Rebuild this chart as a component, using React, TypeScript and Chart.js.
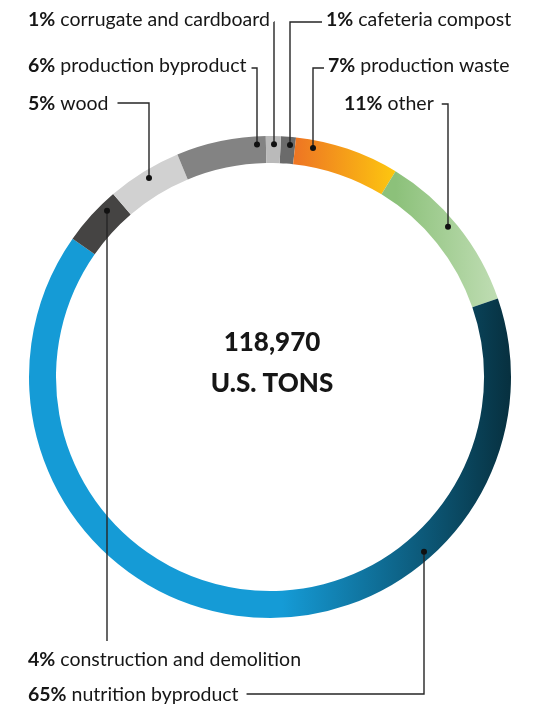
import { useEffect, useRef } from "react";
import { Chart, registerables } from "chart.js";

Chart.register(...registerables);

// ---- data ----
const categories = [
  "cafeteria compost",
  "production waste",
  "other",
  "nutrition byproduct",
  "construction and demolition",
  "wood",
  "production byproduct",
  "corrugate and cardboard",
];
const shares = [1, 7, 11, 65, 4, 5, 6, 1];
const centerLines = ["118,970", "U.S. TONS"];

// ---- styles ----
type Seg = { from: string; to?: string; fx0?: number; fx1?: number };
const segmentStyles: Seg[] = [
  { from: "#6B6B6B" },
  { from: "#EE7623", to: "#FDC70F" },
  { from: "#8CC17A", to: "#BFDDB3" },
  { from: "#159BD6", to: "#07303F", fx0: 0.05, fx1: 1.0 },
  { from: "#454443" },
  { from: "#D1D1D1" },
  { from: "#838383" },
  { from: "#BABABA" },
];

type Lab = {
  tx: number; // text x
  base: number; // text baseline
  lineX: number; // vertical leader x
  lineY: number; // horizontal leader y / end of vertical
  side: "left" | "right" | "none";
  gap: number; // gap between text and horizontal leader
};
const labelLayout: Lab[] = [
  { tx: 326, base: 26, lineX: 290, lineY: 22, side: "right", gap: 4 },
  { tx: 328, base: 72, lineX: 313, lineY: 68, side: "right", gap: 4 },
  { tx: 344, base: 110, lineX: 448, lineY: 104, side: "left", gap: 8 },
  { tx: 28, base: 701, lineX: 424, lineY: 694, side: "left", gap: 8 },
  { tx: 28, base: 666, lineX: 107, lineY: 641, side: "none", gap: 0 },
  { tx: 28, base: 110, lineX: 149, lineY: 103, side: "left", gap: 9 },
  { tx: 28, base: 72, lineX: 257, lineY: 68, side: "left", gap: 5 },
  { tx: 28, base: 26, lineX: 274, lineY: 22, side: "left", gap: 4 },
];

const FONT = "Lato, 'Open Sans', sans-serif";
const INK = "#161616";
const LABEL_SIZE = 19.5;

function angleSpans(rotationDeg: number) {
  const total = shares.reduce((a, b) => a + b, 0);
  let acc = rotationDeg;
  return shares.map((v) => {
    const s = acc;
    acc += (v / total) * 360;
    return [s, acc];
  });
}

const ROTATION = 2.6;

export default function App() {
  const ref = useRef<HTMLCanvasElement | null>(null);

  useEffect(() => {
    document.body.style.margin = "0";
    const canvas = ref.current;
    if (!canvas) return;
    const spans = angleSpans(ROTATION);

    const bg = (ctx: any) => {
      const chart = ctx.chart;
      const i = ctx.dataIndex;
      const st = segmentStyles[i];
      const area = chart.chartArea;
      if (!st.to || !area) return st.from;
      const cx = (area.left + area.right) / 2;
      const r = (area.right - area.left) / 2;
      let x0: number, x1: number;
      if (st.fx0 !== undefined && st.fx1 !== undefined) {
        x0 = cx + st.fx0 * r;
        x1 = cx + st.fx1 * r;
      } else {
        const [a0, a1] = spans[i];
        x0 = cx + r * Math.sin((a0 * Math.PI) / 180);
        x1 = cx + r * Math.sin((a1 * Math.PI) / 180);
      }
      const g = chart.ctx.createLinearGradient(x0, 0, x1, 0);
      g.addColorStop(0, st.from);
      g.addColorStop(1, st.to);
      return g;
    };

    const annotate = {
      id: "annotate",
      afterDraw(chart: any) {
        const c = chart.ctx as CanvasRenderingContext2D;
        const meta = chart.getDatasetMeta(0);
        c.save();
        meta.data.forEach((arc: any, i: number) => {
          const L = labelLayout[i];
          const { x: cx, y: cy, innerRadius, outerRadius, startAngle, endAngle } = arc.getProps(
            ["x", "y", "innerRadius", "outerRadius", "startAngle", "endAngle"],
            true
          );
          const mid = (startAngle + endAngle) / 2;
          const rd = innerRadius + 0.7 * (outerRadius - innerRadius);
          const dx = L.lineX - cx;
          const h = Math.sqrt(Math.max(0, rd * rd - dx * dx));
          const top = Math.sin(mid) < 0;
          const dotY = top ? cy - h : cy + h;

          // text
          const pct = shares[i] + "%";
          c.textBaseline = "alphabetic";
          c.textAlign = "left";
          c.fillStyle = INK;
          c.font = `bold ${LABEL_SIZE}px ${FONT}`;
          const pw = c.measureText(pct).width;
          c.fillText(pct, L.tx, L.base);
          c.font = `${LABEL_SIZE}px ${FONT}`;
          const name = " " + categories[i];
          const nw = c.measureText(name).width;
          c.fillText(name, L.tx + pw, L.base);
          const textEnd = L.tx + pw + nw;

          // leader
          c.strokeStyle = "#262626";
          c.lineWidth = 1.4;
          c.beginPath();
          if (L.side === "left") {
            c.moveTo(textEnd + L.gap, L.lineY);
            c.lineTo(L.lineX, L.lineY);
          } else if (L.side === "right") {
            c.moveTo(L.tx - L.gap, L.lineY);
            c.lineTo(L.lineX, L.lineY);
          } else {
            c.moveTo(L.lineX, L.lineY);
          }
          c.lineTo(L.lineX, dotY);
          c.stroke();

          c.fillStyle = "#111";
          c.beginPath();
          c.arc(L.lineX, dotY, 3, 0, Math.PI * 2);
          c.fill();
        });

        // center text
        const a0 = meta.data[0];
        c.fillStyle = INK;
        c.textAlign = "center";
        c.font = `900 26px ${FONT}`;
        c.fillText(centerLines[0], a0.x + 2, a0.y - 26);
        c.fillText(centerLines[1], a0.x + 2, a0.y + 15);
        c.restore();
      },
    };

    const chart = new Chart(canvas, {
      type: "doughnut",
      data: {
        labels: categories,
        datasets: [
          {
            data: shares,
            backgroundColor: bg as any,
            borderWidth: 0,
            hoverOffset: 0,
          },
        ],
      },
      options: {
        animation: false,
        responsive: false,
        maintainAspectRatio: false,
        rotation: ROTATION,
        cutout: "88.8%",
        layout: { padding: { left: 29, right: 33, top: 136, bottom: 86 } },
        plugins: {
          legend: { display: false },
          tooltip: { enabled: false },
        },
        events: [],
      },
      plugins: [annotate],
    });
    return () => chart.destroy();
  }, []);

  return (
    <div style={{ width: 544, height: 704, position: "relative", background: "#fff" }}>
      <canvas ref={ref} width={544} height={704} style={{ width: 544, height: 704, display: "block" }} />
    </div>
  );
}
